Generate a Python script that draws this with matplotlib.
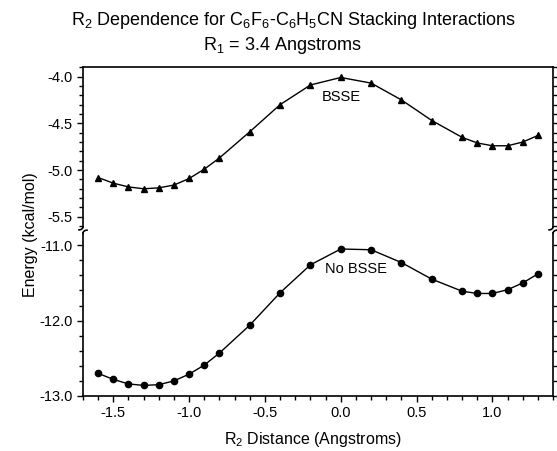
import numpy as np
import matplotlib
matplotlib.use("Agg")
import matplotlib.pyplot as plt
from matplotlib.ticker import MultipleLocator

plt.rcParams['font.family'] = ['Liberation Sans', 'DejaVu Sans']
plt.rcParams['mathtext.fontset'] = 'custom'
plt.rcParams['mathtext.rm'] = 'Liberation Sans'
plt.rcParams['mathtext.it'] = 'Liberation Sans'

# R2 distance (Angstroms)
r2 = [-1.6, -1.5, -1.4, -1.3, -1.2, -1.1, -1.0, -0.9, -0.8, -0.6, -0.4,
      -0.2, 0.0, 0.2, 0.4, 0.6, 0.8, 0.9, 1.0, 1.1, 1.2, 1.3]
# energies (kcal/mol)
bsse = [-5.08, -5.14, -5.18, -5.20, -5.19, -5.16, -5.09, -4.99, -4.87, -4.59, -4.30,
        -4.09, -4.01, -4.07, -4.25, -4.47, -4.65, -4.71, -4.74, -4.74, -4.70, -4.63]
no_bsse = [-12.70, -12.78, -12.84, -12.86, -12.85, -12.80, -12.71, -12.59, -12.43, -12.06, -11.63,
           -11.26, -11.05, -11.06, -11.23, -11.45, -11.61, -11.64, -11.64, -11.59, -11.50, -11.38]

fig = plt.figure(figsize=(5.57, 4.51), dpi=100)
L, R = 0.149, 0.993
top1, bot1 = 0.851, 0.497
top2, bot2 = 0.483, 0.122
ax1 = fig.add_axes([L, bot1, R - L, top1 - bot1])
ax2 = fig.add_axes([L, bot2, R - L, top2 - bot2])

ax1.plot(r2, bsse, color='black', lw=1, marker='^', ms=4.5)
ax2.plot(r2, no_bsse, color='black', lw=1, marker='o', ms=4.5)

for ax in (ax1, ax2):
    ax.set_xlim(-1.7, 1.4)
    ax.tick_params(which='both', direction='out', labelsize=10.5, width=1, right=True)
    ax.tick_params(which='major', length=4)
    ax.tick_params(which='minor', length=3)
    for s in ax.spines.values():
        s.set_linewidth(1.2)

ax1.set_ylim(-5.607, -3.9)
ax1.yaxis.set_major_locator(MultipleLocator(0.5))
ax1.yaxis.set_minor_locator(MultipleLocator(0.1))
ax1.yaxis.set_major_formatter(plt.FormatStrFormatter('%.1f'))
ax1.spines['bottom'].set_visible(False)
ax1.tick_params(axis='x', which='both', bottom=False, labelbottom=False)

ax2.set_ylim(-13.0, -10.84)
ax2.yaxis.set_major_locator(MultipleLocator(1.0))
ax2.yaxis.set_minor_locator(MultipleLocator(0.2))
ax2.yaxis.set_major_formatter(plt.FormatStrFormatter('%.1f'))
ax2.xaxis.set_major_locator(MultipleLocator(0.5))
ax2.xaxis.set_minor_locator(MultipleLocator(0.1))
ax2.xaxis.set_major_formatter(plt.FormatStrFormatter('%.1f'))
ax2.spines['top'].set_visible(False)

# axis break hooks on both spines
th = np.linspace(0, np.pi / 2, 20)
w, h = 4.0 / 557, 3.0 / 451
for xf in (L, R):
    xs = xf - w * (1 - np.cos(th))
    ys = bot1 - h * np.sin(th)
    fig.lines.append(plt.Line2D(xs, ys, transform=fig.transFigure, color='black', lw=1.2))
    xs = xf + w * (1 - np.cos(th))
    ys = top2 + h * np.sin(th)
    fig.lines.append(plt.Line2D(xs, ys, transform=fig.transFigure, color='black', lw=1.2))

ax1.text(0.0, -4.22, 'BSSE', ha='center', va='center', fontsize=10.5)
ax2.text(0.1, -11.32, 'No BSSE', ha='center', va='center', fontsize=10.5)

fig.text(0.526, 0.955, r'R$_2$ Dependence for C$_6$F$_6$-C$_6$H$_5$CN Stacking Interactions',
         ha='center', va='center', fontsize=13)
fig.text(0.506, 0.899, r'R$_1$ = 3.4 Angstroms', ha='center', va='center', fontsize=13)
fig.text(0.054, 0.48, 'Energy (kcal/mol)', rotation=90, ha='center', va='center', fontsize=11.5)
fig.text(0.562, 0.025, r'R$_2$ Distance (Angstroms)', ha='center', va='center', fontsize=11.5)

fig.savefig('out.png', dpi=100)
